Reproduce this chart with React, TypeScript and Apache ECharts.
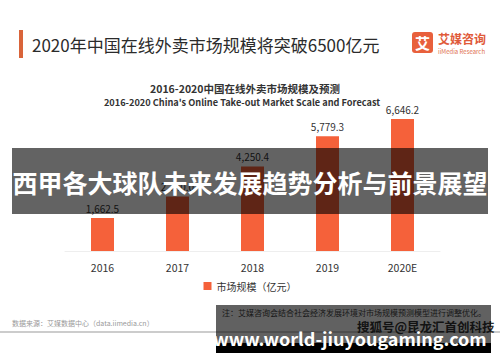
import React, { useEffect, useRef } from "react";
import * as echarts from "echarts";

const categories = ["2016", "2017", "2018", "2019", "2020E"];
const marketScale = [1662.5, 2740.0, 4250.4, 5779.3, 6646.2];
const legendName = "市场规模（亿元）";
const headerTitle = "2020年中国在线外卖市场规模将突破6500亿元";
const subTitleCn = "2016-2020中国在线外卖市场规模及预测";
const subTitleEn = "2016-2020 China's Online Take-out Market Scale and Forecast";
const overlayText = "西甲各大球队未来发展趋势分析与前景展望";
const noteText = "注：艾媒咨询会结合社会经济发展环境对市场规模预测模型进行调整优化。";
const sourceText = "数据来源：艾媒数据中心（data.iimedia.cn）";
const watermarkText = "搜狐号@昆龙汇首创科技";
const siteText = "www.world-jiuyougaming.com";

const CJK = "'Noto Sans CJK SC', 'Noto Sans', sans-serif";

export default function App() {
  const ref = useRef<HTMLDivElement>(null);
  useEffect(() => {
    if (!ref.current) return;
    const chart = echarts.init(ref.current, undefined, { renderer: "svg" });
    chart.setOption({
      animation: false,
      backgroundColor: "#ffffff",
      textStyle: { fontFamily: CJK },
      grid: { left: 65, right: 60, top: 112, bottom: 111 },
      legend: {
        data: [legendName],
        top: 276,
        left: "center",
        itemWidth: 8,
        itemHeight: 8,
        icon: "rect",
        textStyle: { fontSize: 10, color: "#333", fontFamily: CJK },
      },
      xAxis: {
        type: "category",
        data: categories,
        axisLine: { lineStyle: { color: "#eeeeee", width: 1 } },
        axisTick: { show: false },
        axisLabel: { color: "#333", fontSize: 10.5, margin: 11, fontFamily: CJK },
      },
      yAxis: {
        type: "value",
        min: 0,
        max: 7000,
        show: false,
        splitLine: { show: false },
      },
      series: [
        {
          name: legendName,
          type: "bar",
          data: marketScale,
          barWidth: 23,
          itemStyle: { color: "#f5613a" },
          label: {
            show: true,
            position: "top",
            distance: 5,
            color: "#333",
            fontSize: 10,
            fontFamily: CJK,
            formatter: (p: any) =>
              Number(p.value).toLocaleString("en-US", {
                minimumFractionDigits: 1,
                maximumFractionDigits: 1,
              }),
          },
        },
      ],
      graphic: [
        { type: "rect", shape: { x: 19, y: 30, width: 4, height: 28 }, style: { fill: "#d9643a" } },
        {
          type: "text",
          x: 32,
          y: 44,
          style: { text: headerTitle, fill: "#2b2b2b", font: `17px ${CJK}`, verticalAlign: "middle" },
        },
        { type: "rect", shape: { x: 412, y: 32, width: 21, height: 21, r: 3 }, style: { fill: "#e8603c" } },
        {
          type: "text",
          x: 422.5,
          y: 42.5,
          style: { text: "艾", font: `bold 15px ${CJK}`, fill: "#fff", align: "center", verticalAlign: "middle" },
        },
        {
          type: "text",
          x: 438,
          y: 38.5,
          style: { text: "艾媒咨询", font: `bold 12px ${CJK}`, fill: "#e05a3a", verticalAlign: "middle" },
        },
        {
          type: "text",
          x: 438,
          y: 51,
          style: { text: "iiMedia Research", font: `6px ${CJK}`, fill: "#e07050", verticalAlign: "middle" },
        },
        {
          type: "text",
          x: 245,
          y: 88.5,
          style: { text: subTitleCn, font: `bold 10.5px ${CJK}`, fill: "#333", align: "center", verticalAlign: "middle" },
        },
        {
          type: "text",
          x: 242,
          y: 101.5,
          style: { text: subTitleEn, font: `bold 9.2px ${CJK}`, fill: "#333", align: "center", verticalAlign: "middle" },
        },
        {
          type: "text",
          x: 222,
          y: 312,
          style: { text: noteText, font: `8px ${CJK}`, fill: "#444", verticalAlign: "middle" },
        },
        {
          type: "text",
          x: 12,
          y: 323,
          style: { text: sourceText, font: `7px ${CJK}`, fill: "#999", verticalAlign: "middle" },
        },
        { type: "line", shape: { x1: 0, y1: 332, x2: 500, y2: 332 }, style: { stroke: "#bbbbbb", lineWidth: 1.5 } },
        {
          type: "text",
          x: 357,
          y: 326,
          style: { text: watermarkText, font: `bold 12.5px ${CJK}`, fill: "#333", verticalAlign: "middle" },
        },
        {
          type: "rect",
          z: 100,
          shape: { x: 12, y: 148, width: 476, height: 66 },
          style: { fill: "rgba(0,0,0,0.61)" },
        },
        {
          type: "text",
          z: 101,
          x: 250,
          y: 182,
          style: { text: overlayText, font: `bold 25px ${CJK}`, fill: "#fff", align: "center", verticalAlign: "middle" },
        },
        {
          type: "rect",
          z: 100,
          shape: { x: 216, y: 305, width: 275, height: 38 },
          style: { fill: "rgba(0,0,0,0.62)" },
        },
        {
          type: "rect",
          z: 100,
          shape: { x: 216, y: 343, width: 275, height: 10 },
          style: { fill: "#000" },
        },
        {
          type: "text",
          z: 101,
          x: 350,
          y: 338,
          style: { text: siteText, font: `bold 18px ${CJK}`, fill: "#fff", align: "center", verticalAlign: "middle" },
        },
      ],
    });
    return () => chart.dispose();
  }, []);
  return (
    <div
      ref={ref}
      style={{ position: "fixed", left: 0, top: 0, width: 500, height: 362 }}
    />
  );
}
